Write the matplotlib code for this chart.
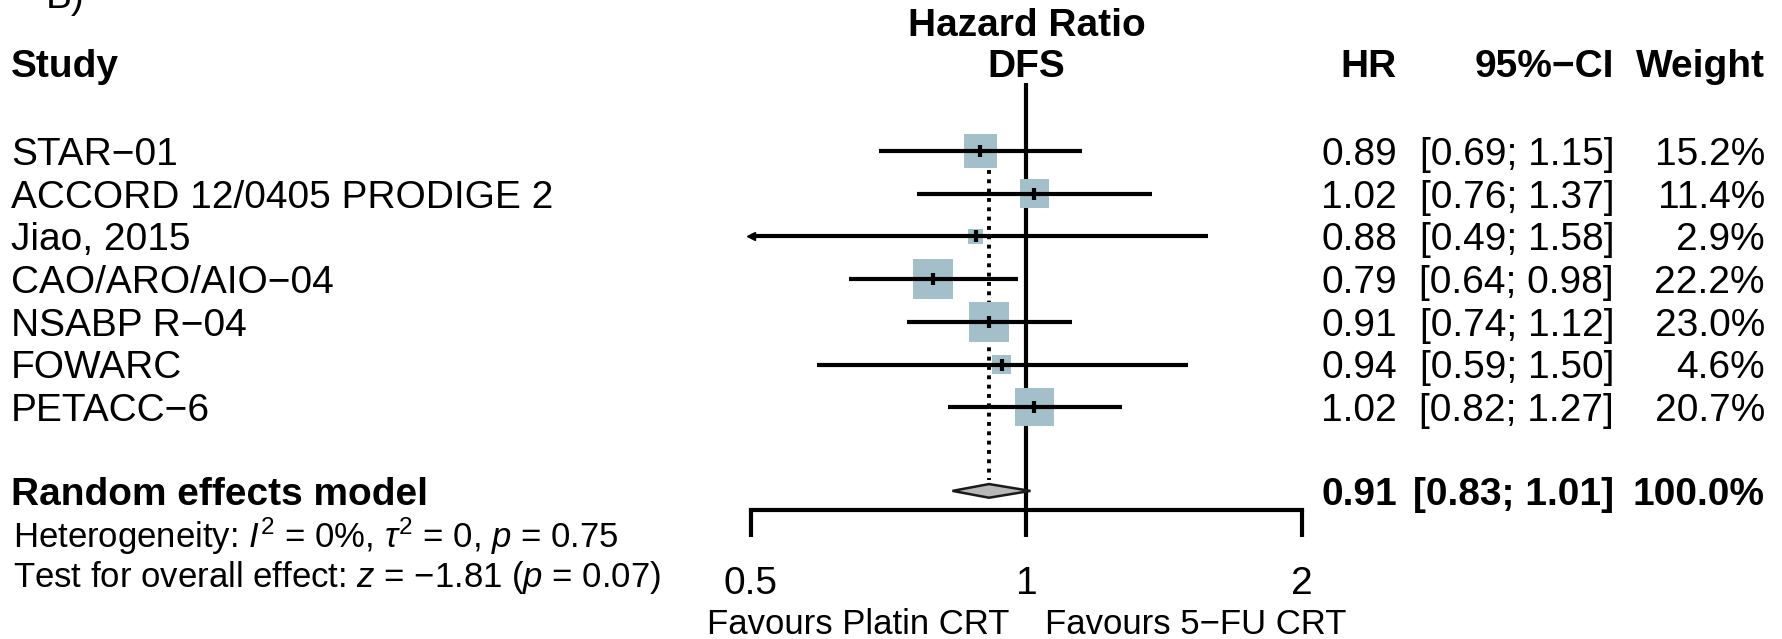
import matplotlib.pyplot as plt
import matplotlib.transforms as mtransforms
from matplotlib.patches import Polygon
import numpy as np

plt.rcParams['font.family'] = ['Liberation Sans', 'DejaVu Sans']
plt.rcParams['mathtext.fontset'] = 'custom'
plt.rcParams['mathtext.rm'] = 'Liberation Sans'
plt.rcParams['mathtext.it'] = 'Liberation Sans:italic'

# data
studies = ["STAR−01", "ACCORD 12/0405 PRODIGE 2", "Jiao, 2015", "CAO/ARO/AIO−04",
           "NSABP R−04", "FOWARC", "PETACC−6"]
hr = [0.89, 1.02, 0.88, 0.79, 0.91, 0.94, 1.02]
ci_low = [0.69, 0.76, 0.49, 0.64, 0.74, 0.59, 0.82]
ci_high = [1.15, 1.37, 1.58, 0.98, 1.12, 1.50, 1.27]
weight = [15.2, 11.4, 2.9, 22.2, 23.0, 4.6, 20.7]

pooled_hr = 0.91
pooled_low = 0.83
pooled_high = 1.01
pooled_weight = 100.0

ticks = [0.5, 1, 2]
tick_labels = ["0.5", "1", "2"]

W, H = 1783, 639
fig = plt.figure(figsize=(W / 100, H / 100), dpi=100)
ax = fig.add_axes([0, 0, 1, 1])
ax.set_xscale('log', base=2)
ax.axis('off')

# pixel anchors: 0.5 -> 751 px, 2 -> 1302 px ; row 0 -> 151 px, 42.7 px per row
px_per_log2 = (1302 - 751) / 2
lo_log = -1 - 751 / px_per_log2
hi_log = 1 + (W - 1302) / px_per_log2
ax.set_xlim(2 ** lo_log, 2 ** hi_log)
row_px = 42.7
ax.set_ylim((H - 151) / row_px, -151 / row_px)

fig_x = mtransforms.blended_transform_factory(fig.transFigure, ax.transData)


def txt(x, row, s, size=28, ha='left', bold=False, data_x=False):
    # put the middle of the capital letters on the row
    cap = size * 100 / 72 * 0.716 / 2 / row_px
    tr = ax.transData if data_x else fig_x
    xx = x if data_x else x / W
    ax.text(xx, row + cap, s, transform=tr, ha=ha, va='baseline', fontsize=size,
            fontweight='bold' if bold else 'normal', color='black')


rows = np.arange(len(studies))
sum_row = 7.96
lw = 3.0

# reference and pooled lines
ax.plot([1, 1], [-1.59, 8.41], color='black', lw=lw, solid_capstyle='butt', zorder=2)
ax.plot([pooled_hr, pooled_hr], [-0.2, 7.7], color='black', lw=2.8,
        ls=(0, (1, 1.4)), zorder=1)

# study squares, CIs and estimates
ax.scatter(hr, rows, s=20 + 36 * np.array(weight), marker='s', color='#a3bfca',
           linewidths=0, zorder=3)
for i in rows:
    lo = max(ci_low[i], ticks[0])
    ax.plot([lo, ci_high[i]], [i, i], color='black', lw=lw,
            solid_capstyle='butt', zorder=4)
    if ci_low[i] < ticks[0]:
        ax.plot(ticks[0], i, marker='<', color='black', ms=6, zorder=4)
ax.plot(hr, rows, '|', color='black', ms=8.6, mew=3, zorder=5)

# pooled diamond
h = 0.16
ax.add_patch(Polygon([[pooled_low, sum_row], [pooled_hr, sum_row - h],
                      [pooled_high, sum_row], [pooled_hr, sum_row + h]],
                     closed=True, facecolor='#b8b8b8', edgecolor='#1a1a1a',
                     lw=1.8, zorder=4))

# x axis
ax.plot([ticks[0], ticks[-1]], [8.41, 8.41], color='black', lw=lw,
        solid_capstyle='projecting', zorder=2)
for t, lab in zip(ticks, tick_labels):
    ax.plot([t, t], [8.41, 9.04], color='black', lw=lw, solid_capstyle='butt')
    txt(t, 10.05, lab, ha='center', data_x=True)

# headers
ax.text(46 / W, -3.35, "B)", transform=fig_x, ha='left', va='baseline', fontsize=28)
txt(1, -3.01, "Hazard Ratio", ha='center', bold=True, data_x=True)
txt(1, -2.06, "DFS", ha='center', bold=True, data_x=True)
txt(11, -2.06, "Study", bold=True)
txt(1397, -2.06, "HR", ha='right', bold=True)
txt(1614, -2.06, "95%−CI", ha='right', bold=True)
txt(1765, -2.06, "Weight", ha='right', bold=True)

# study rows
for i in rows:
    txt(11, i, studies[i])
    txt(1397, i, f"{hr[i]:.2f}", ha='right')
    txt(1614, i, f"[{ci_low[i]:.2f}; {ci_high[i]:.2f}]", ha='right')
    txt(1765, i, f"{weight[i]:.1f}%", ha='right')

# summary
txt(11, sum_row, "Random effects model", bold=True)
txt(1397, sum_row, f"{pooled_hr:.2f}", ha='right', bold=True)
txt(1614, sum_row, f"[{pooled_low:.2f}; {pooled_high:.2f}]", ha='right', bold=True)
txt(1765, sum_row, f"{pooled_weight:.1f}%", ha='right', bold=True)

txt(13, 8.99, r"Heterogeneity: $I^2$ = 0%, $\tau^2$ = 0, $p$ = 0.75", size=25)
txt(13, 9.93, r"Test for overall effect: $z$ = −1.81 ($p$ = 0.07)", size=25)

txt(1009, 11.03, "Favours Platin CRT", ha='right', size=25)
txt(1045, 11.03, "Favours 5−FU CRT", ha='left', size=25)

fig.savefig("out.png", dpi=100)
